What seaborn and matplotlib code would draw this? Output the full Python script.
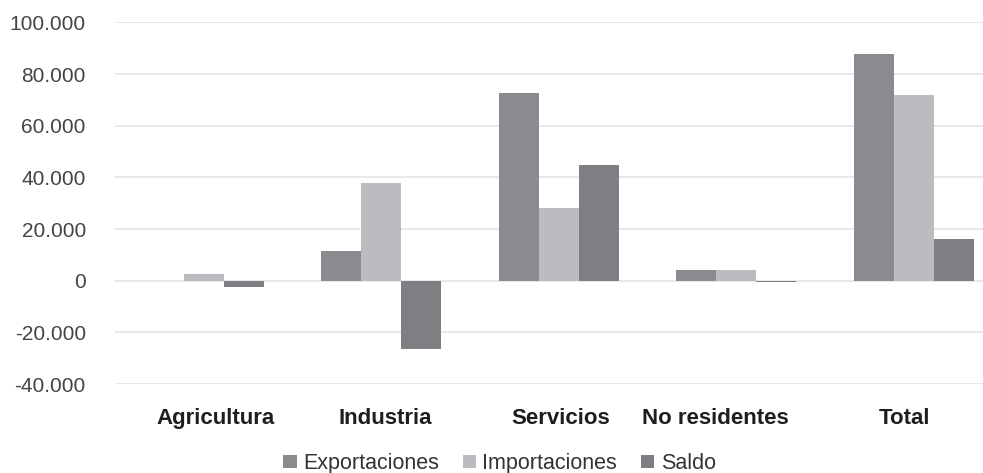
import matplotlib

matplotlib.use("Agg")
import matplotlib.pyplot as plt
import matplotlib.ticker as mticker
import matplotlib.transforms as mtransforms
import pandas as pd
import seaborn as sns

# data
sectores = ["Agricultura", "Industria", "Servicios", "No residentes", "Total"]
exportaciones = [50, 11700, 72800, 4000, 87900]
importaciones = [2500, 38000, 28000, 4300, 72100]
saldo = [-2300, -26400, 45000, -500, 16000]
series = ["Exportaciones", "Importaciones", "Saldo"]
colores = {"Exportaciones": "#8b8b8f", "Importaciones": "#bbbcc0", "Saldo": "#7f7f83"}

yticks = [-40000, -20000, 0, 20000, 40000, 60000, 80000, 100000]

rows = []
for name, vals in zip(series, [exportaciones, importaciones, saldo]):
    for s, v in zip(sectores, vals):
        rows.append({"sector": s, "serie": name, "valor": v})
df = pd.DataFrame(rows)

sns.set_style("white")
plt.rcParams["font.family"] = ["Liberation Sans", "DejaVu Sans"]

fig = plt.figure(figsize=(9.83, 4.73), dpi=100)
# axes runs a bit past the right edge, like the cropped original
ax = fig.add_axes([115 / 983, 89 / 473, 887.5 / 983, 361.5 / 473])

sns.barplot(
    data=df, x="sector", y="valor", hue="serie", order=sectores, hue_order=series,
    palette=colores, width=0.676, saturation=1, linewidth=0, edgecolor="none", ax=ax,
)

ax.set_ylim(-40000, 100000)
ax.set_xlim(-0.5, 4.5)
ax.set_yticks(yticks)
ax.yaxis.set_major_formatter(
    mticker.FuncFormatter(lambda v, p: f"{int(v):,}".replace(",", "."))
)
ax.grid(axis="y", color="#e6e6e6", linewidth=1.3)
ax.set_axisbelow(True)
for sp in ax.spines.values():
    sp.set_visible(False)
ax.tick_params(axis="y", length=0, pad=21, labelsize=15, labelcolor="#444444")
ax.tick_params(axis="x", length=0, pad=17, labelsize=16, labelcolor="#1e1e1e")

# category labels in the original are not exactly centred under the groups
shifts = [12, 4, 2, -21, -9]
for lbl, dx in zip(ax.get_xticklabels(), shifts):
    lbl.set_fontweight("bold")
    lbl.set_transform(lbl.get_transform() + mtransforms.ScaledTranslation(dx / 100, 0, fig.dpi_scale_trans))
ax.set_xlabel("")
ax.set_ylabel("")

handles, labels = ax.get_legend_handles_labels()
ax.get_legend().remove()
fig.legend(
    handles, labels, loc="center", bbox_to_anchor=(0.508, 0.02), ncol=3,
    frameon=False, fontsize=15.5, labelcolor="#333333",
    handlelength=0.62, handleheight=0.55, handletextpad=0.3, columnspacing=1.1,
)

fig.savefig("out.png", dpi=100)
